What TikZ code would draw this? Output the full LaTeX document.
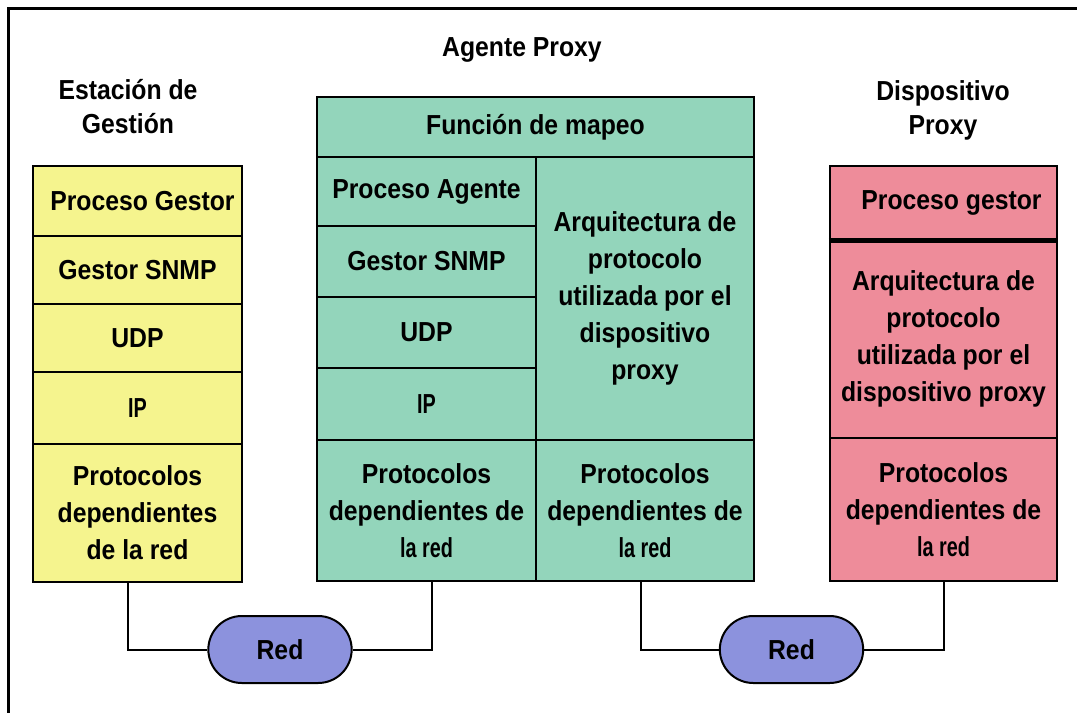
\documentclass[tikz,border=0pt]{standalone}
\usepackage{fontspec}
\setmainfont{Liberation Sans}[FakeStretch=0.9]
\newfontfamily\strettofont[FakeStretch=0.72]{Liberation Sans}
\usetikzlibrary{shapes.misc}
\definecolor{giallo}{HTML}{F5F48E}
\definecolor{verde}{HTML}{93D5BB}
\definecolor{rosa}{HTML}{EE8C9A}
\definecolor{blu}{HTML}{8C92DD}
\tikzset{
  cella/.style={draw, line width=2.5pt, inner sep=0pt, align=center,
    font=\fontsize{27.5}{37}\selectfont\bfseries},
  titolo/.style={align=center, font=\fontsize{27.5}{34}\selectfont\bfseries},
  rete/.style={draw, line width=2pt, rounded rectangle, fill=blu,
    minimum width=150pt, minimum height=67pt, font=\fontsize{27.5}{30}\selectfont\bfseries},
  filo/.style={line width=2pt}
}
\newcommand{\lared}{{\strettofont la red}}
\begin{document}
\begin{tikzpicture}[x=1pt,y=-1pt]
                \useasboundingbox (0,0) rectangle (1077,713);
                \draw[line width=3pt] (1077,8) -- (8,8) -- (8,713);

                %titoli
                \node[titolo] (t1) at (128,107) {Estación de\\Gestión};
                \node[titolo] (t2) at (522,50) {Agente Proxy};
                \node[titolo] (t3) at (943,110) {Dispositivo\\Proxy};

                %stazione di gestione
                \node[cella,fill=giallo,minimum width=209pt,minimum height=70pt] (y1) at (137.5,201) {\hspace*{10pt}Proceso Gestor};
                \node[cella,fill=giallo,minimum width=209pt,minimum height=68pt] (y2) at (137.5,270) {Gestor SNMP};
                \node[cella,fill=giallo,minimum width=209pt,minimum height=68pt] (y3) at (137.5,338) {UDP};
                \node[cella,fill=giallo,minimum width=209pt,minimum height=72pt] (y4) at (137.5,408) {{\strettofont IP}};
                \node[cella,fill=giallo,minimum width=209pt,minimum height=138pt] (y5) at (137.5,513) {Protocolos\\dependientes\\de la red};

                %agente proxy
                \node[cella,fill=verde,minimum width=437pt,minimum height=60pt] (g0) at (535.5,127) {Función de mapeo};
                \node[cella,fill=verde,minimum width=219pt,minimum height=69pt] (g1) at (426.5,191.5) {Proceso Agente};
                \node[cella,fill=verde,minimum width=219pt,minimum height=71pt] (g2) at (426.5,261.5) {Gestor SNMP};
                \node[cella,fill=verde,minimum width=219pt,minimum height=71pt] (g3) at (426.5,332.5) {UDP};
                \node[cella,fill=verde,minimum width=219pt,minimum height=72pt] (g4) at (426.5,404) {{\strettofont IP}};
                \node[cella,fill=verde,minimum width=219pt,minimum height=141pt] (g5) at (426.5,510.5) {Protocolos\\dependientes de\\\lared};
                \node[cella,fill=verde,minimum width=218pt,minimum height=283pt] (g6) at (645,298.5) {Arquitectura de\\protocolo\\utilizada por el\\dispositivo\\proxy};
                \node[cella,fill=verde,minimum width=218pt,minimum height=141pt] (g7) at (645,510.5) {Protocolos\\dependientes de\\\lared};

                %dispositivo proxy
                \node[cella,fill=rosa,minimum width=227pt,minimum height=73pt] (p1) at (943.5,202.5) {\hspace*{16pt}Proceso gestor};
                \node[cella,fill=rosa,minimum width=227pt,minimum height=199pt] (p2) at (943.5,338.5) {Arquitectura de\\protocolo\\utilizada por el\\dispositivo proxy};
                \node[cella,fill=rosa,minimum width=227pt,minimum height=143pt] (p3) at (943.5,509.5) {Protocolos\\dependientes de\\\lared};
                \draw[line width=5pt] (p1.south west) -- (p1.south east);

                %reti
                \node[rete] (r1) at (280,649.5) {Red};
                \node[rete] (r2) at (791.5,649.5) {Red};

                \draw[filo] ([xshift=-9.5pt]y5.south) |- (r1);
                \draw[filo] ([xshift=5.5pt]g5.south) |- (r1);
                \draw[filo] ([xshift=-4pt]g7.south) |- (r2);
                \draw[filo] (p3.south) |- (r2);

\end{tikzpicture}
\end{document}
